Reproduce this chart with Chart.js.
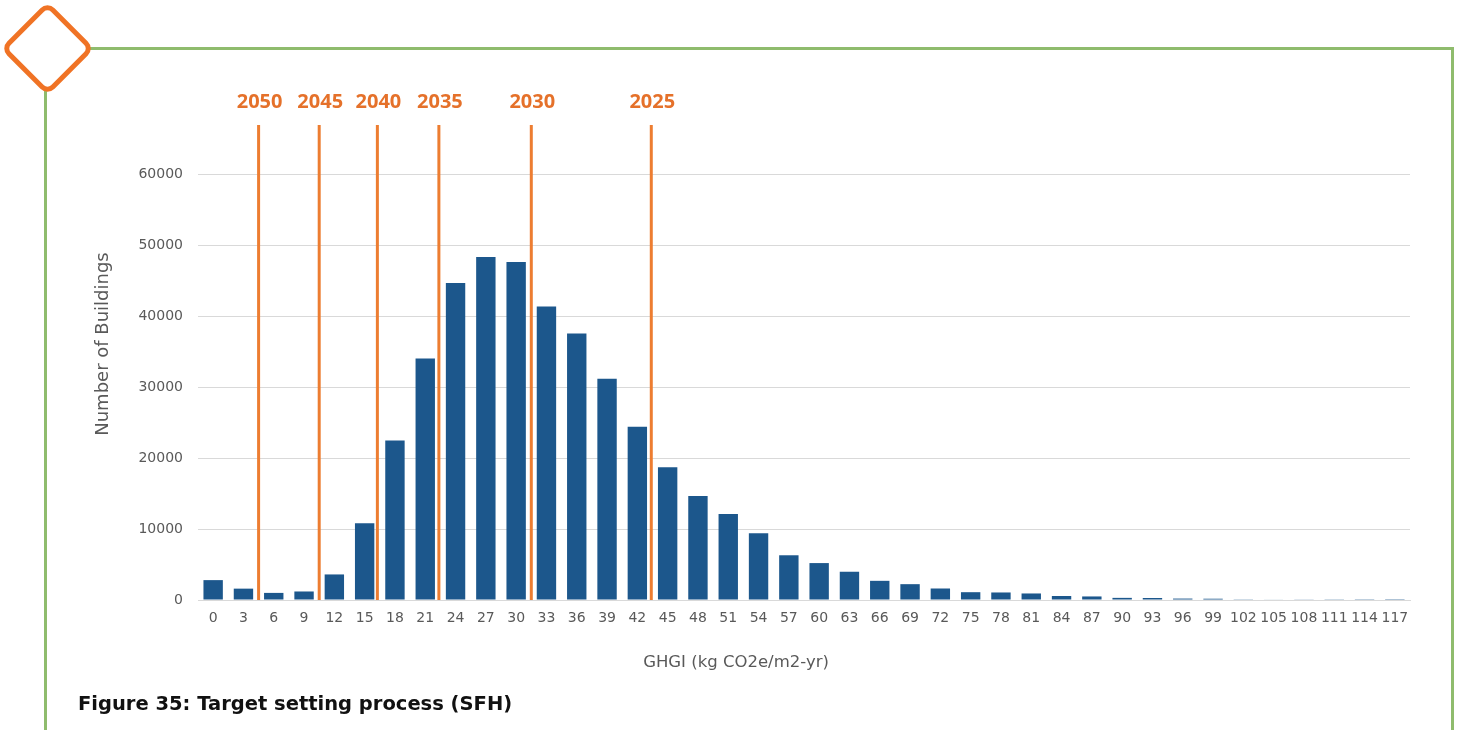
<!DOCTYPE html>
<html>
<head>
<meta charset="utf-8">
<script src="https://cdn.jsdelivr.net/npm/chart.js@4"></script>
<style>
  html, body { margin: 0; padding: 0; background: #ffffff; }
  body { width: 1463px; height: 730px; position: relative; overflow: hidden; }
  #frameTop { position: absolute; left: 90px; top: 47px; width: 1364px; height: 3px; background: #8fbc6d; }
  #frameLeft { position: absolute; left: 44px; top: 90px; width: 3px; height: 660px; background: #8fbc6d; }
  #frameRight { position: absolute; left: 1451px; top: 47px; width: 3px; height: 700px; background: #8fbc6d; }
  #diamond { position: absolute; left: 14px; top: 15px; width: 67px; height: 67px; box-sizing: border-box;
             border: 5px solid #f07325; border-radius: 10px; background: #fff; transform: rotate(45deg); }
  #wrap { position: absolute; left: 0; top: 0; width: 1463px; height: 730px; }
  #caption { position: absolute; left: 78px; top: 692px; font-family: "DejaVu Sans", Verdana, sans-serif;
             font-weight: bold; font-size: 19.5px; color: #111; white-space: nowrap; }
</style>
</head>
<body>
<div id="frameTop"></div>
<div id="frameLeft"></div>
<div id="frameRight"></div>
<div id="diamond"></div>
<div id="wrap"><canvas id="c"></canvas></div>
<div id="caption">Figure 35: Target setting process (SFH)</div>
<script>
const categories = ['0','3','6','9','12','15','18','21','24','27','30','33','36','39','42','45','48','51','54','57',
  '60','63','66','69','72','75','78','81','84','87','90','93','96','99','102','105','108','111','114','117'];
const buildingCounts = [2800,1600,1000,1200,3600,10800,22450,34000,44650,48300,47600,41350,37550,31150,24400,18700,14650,12100,9400,6300,
  5200,3980,2700,2230,1620,1100,1060,920,560,500,300,280,200,180,100,80,50,40,30,20];
const targetYears = ['2050','2045','2040','2035','2030','2025'];
const targetPositions = [1.5, 3.5, 5.42, 7.45, 10.5, 14.46];
const yTicks = [0,10000,20000,30000,40000,50000,60000];
const xTitle = 'GHGI (kg CO2e/m2-yr)';
const yTitle = 'Number of Buildings';
const FONT = '"DejaVu Sans", Verdana, sans-serif';

const targetPlugin = {
  id: 'targets',
  afterDatasetsDraw(chart) {
    const ctx = chart.ctx, x = chart.scales.x, area = chart.chartArea;
    ctx.save();
    targetPositions.forEach((p, i) => {
      const px = x.getPixelForValue(p);
      ctx.strokeStyle = '#ed7d31';
      ctx.lineWidth = 3;
      ctx.beginPath();
      ctx.moveTo(px, 125);
      ctx.lineTo(px, area.bottom);
      ctx.stroke();
      ctx.fillStyle = '#e5712a';
      ctx.font = 'bold 20px "Open Sans", sans-serif';
      ctx.textAlign = 'center';
      ctx.textBaseline = 'middle';
      ctx.fillText(targetYears[i], px + 1, 102);
    });
    // axis titles
    ctx.fillStyle = '#595959';
    ctx.font = '16.5px ' + FONT;
    ctx.textAlign = 'center';
    ctx.textBaseline = 'middle';
    ctx.fillText(xTitle, 736, 663);
    ctx.translate(103, 344);
    ctx.rotate(-Math.PI / 2);
    ctx.font = '18px ' + FONT;
    ctx.fillText(yTitle, 0, 0);
    ctx.restore();
  }
};

new Chart(document.getElementById('c'), {
  type: 'bar',
  data: {
    labels: categories,
    datasets: [{
      data: buildingCounts,
      backgroundColor: '#1c578c',
      categoryPercentage: 1,
      barPercentage: 0.64
    }]
  },
  options: {
    responsive: true,
    maintainAspectRatio: false,
    animation: false,
    layout: { padding: { left: 80, right: 53, top: 174, bottom: 50 } },
    plugins: { legend: { display: false }, tooltip: { enabled: false } },
    scales: {
      x: {
        grid: { display: false, drawTicks: false },
        border: { display: true, color: '#d9d9d9', width: 1 },
        ticks: { autoSkip: false, maxRotation: 0, minRotation: 0, padding: 10,
                 color: '#595959', font: { family: FONT, size: 14 } },
        afterFit(s) { s.height = 80; }
      },
      y: {
        min: 0, max: 60000,
        afterBuildTicks(s) { s.ticks = yTicks.map(v => ({ value: v })); },
        grid: { color: '#d9d9d9', drawTicks: false },
        border: { display: false },
        ticks: { padding: 15, color: '#595959', font: { family: FONT, size: 14 },
                 callback: (v) => String(v) },
        afterFit(s) { s.width = 118; }
      }
    }
  },
  plugins: [targetPlugin]
});
</script>
</body>
</html>
